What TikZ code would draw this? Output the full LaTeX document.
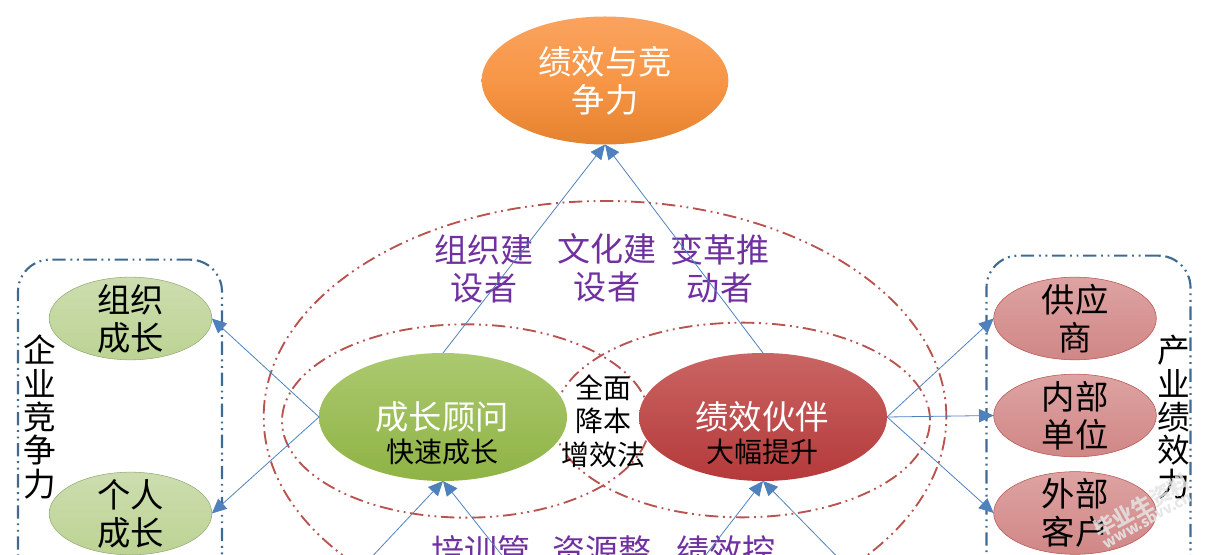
\documentclass[tikz,border=0pt]{standalone}
\usepackage{fontspec}
\setmainfont{Noto Sans CJK SC}
\usetikzlibrary{arrows.meta,shapes.geometric}
\definecolor{boxblue}{HTML}{3F6A92}
\definecolor{ringred}{HTML}{B9534F}
\definecolor{arrowblue}{HTML}{4F81BD}
\definecolor{txtpurple}{HTML}{7030A0}
\definecolor{lgtop}{HTML}{CDDDB0}
\definecolor{lgbot}{HTML}{BCD393}
\definecolor{lrtop}{HTML}{DDA3A2}
\definecolor{lrbot}{HTML}{D08786}
\definecolor{otop}{HTML}{FAA35F}
\definecolor{omid}{HTML}{F79646}
\definecolor{obot}{HTML}{E5822F}
\definecolor{gtop}{HTML}{ABC96F}
\definecolor{gbot}{HTML}{8FB345}
\definecolor{rtop}{HTML}{C96563}
\definecolor{rbot}{HTML}{B5393A}
\definecolor{markgrey}{HTML}{E4E4E4}
\tikzset{
  px/.style={x=0.75pt,y=-0.75pt},
  blob/.style={ellipse,inner sep=0pt,outer sep=0pt,align=center,font=\fontsize{25pt}{28.5pt}\selectfont},
  bigblob/.style={blob,minimum width=186pt,minimum height=96pt},
  smallblob/.style={blob,inner sep=-6pt,minimum width=122pt,minimum height=62pt},
  lgreen/.style={smallblob,draw=lgbot!80!black,top color=lgtop,bottom color=lgbot},
  lred/.style={smallblob,draw=ringred,top color=lrtop,bottom color=lrbot},
  chain/.style={dash pattern=on 10pt off 3.5pt on 1.4pt off 3.5pt on 1.4pt off 3.5pt},
  ring/.style={draw=ringred,line width=1.4pt,chain,ellipse,inner sep=0pt},
  groupbox/.style={draw=boxblue,line width=1.6pt,rounded corners=24pt,chain,rectangle,inner sep=0pt,minimum width=153pt,minimum height=248pt},
  conn/.style={draw=arrowblue,line width=0.6pt,-{Triangle[length=11pt,width=10pt]}},
  role/.style={align=center,text=txtpurple,font=\fontsize{24.8pt}{28.5pt}\selectfont},
  vert/.style={align=center,font=\fontsize{24.5pt}{25pt}\selectfont},
  midlabel/.style={align=center,font=\fontsize{21pt}{25pt}\selectfont},
  inlabel/.style={align=center,font=\fontsize{25pt}{28pt}\selectfont,text=white},
  mark1/.style={text=markgrey,text opacity=.85,rotate=29,font=\bfseries\fontsize{16pt}{16pt}\selectfont},
  mark2/.style={text=markgrey,text opacity=.9,rotate=29,font=\bfseries\fontsize{11pt}{11pt}\selectfont},
}
\begin{document}
\begin{tikzpicture}[px]
\useasboundingbox (0,0) rectangle (1209,555);
\clip (0,0) rectangle (1209,555);
% rings
\node[ring,minimum width=512pt,minimum height=324pt] (outer) at (605,417) {};
\node[ring,minimum width=276pt,minimum height=145pt] (ringL) at (466,421) {};
\node[ring,minimum width=282pt,minimum height=146pt] (ringR) at (742,420) {};
% group boxes
\node[groupbox] (boxL) at (120,425) {};
\node[groupbox] (boxR) at (1088.5,421) {};
% main ellipses
\node[blob,minimum width=185pt,minimum height=96pt,top color=otop,bottom color=obot,middle color=omid,text=white] (top) at (605,80.5) {绩效与竞\\争力};
\node[bigblob,top color=gtop,bottom color=gbot] (grow) at (443,417) {};
\node[bigblob,top color=rtop,bottom color=rbot] (perf) at (763,417) {};
\node[inlabel] (growT) at (442,417) {成长顾问};
\node[midlabel] (growS) at (442,452) {快速成长};
\node[inlabel] (perfT) at (762,417) {绩效伙伴};
\node[midlabel] (perfS) at (762,452) {大幅提升};
% small ellipses
\node[lgreen] (org) at (130.5,318.5) {组织\\成长};
\node[lgreen] (per) at (130.5,513.5) {个人\\成长};
\node[lred] (sup) at (1075,318.5) {供应\\商};
\node[lred] (inn) at (1075,415.5) {内部\\单位};
\node[lred] (ext) at (1075,513) {外部\\客户};
% labels
\node[role] (r1) at (484,269) {组织建\\设者};
\node[role] (r2) at (607,268) {文化建\\设者};
\node[role] (r3) at (720,269) {变革推\\动者};
\node[midlabel] (mid) at (603,421) {全面\\降本\\增效法};
\node[role,anchor=north] (b1) at (481,531) {培训管};
\node[role,anchor=north] (b2) at (602,531) {资源整};
\node[role,anchor=north] (b3) at (726,531) {绩效控};
\node[vert] (vL) at (40,417) {企\\业\\竞\\争\\力};
\node[vert] (vR) at (1174,417) {产\\业\\绩\\效\\力};
% connectors
\coordinate (fa) at (352,578);
\coordinate (fb) at (520,578);
\coordinate (fc) at (688,578);
\coordinate (fd) at (858,578);
\draw[conn] (grow.north) -- (top.south);
\draw[conn] (perf.north) -- (top.south);
\draw[conn] (grow.west) -- (org.east);
\draw[conn] (grow.west) -- (per.east);
\draw[conn] (perf.east) -- (sup.west);
\draw[conn] (perf.east) -- (inn.west);
\draw[conn] (perf.east) -- (ext.west);
\draw[conn] (fa) -- (grow.south);
\draw[conn] (fb) -- (grow.south);
\draw[conn] (fc) -- (perf.south);
\draw[conn] (fd) -- (perf.south);
% site mark over the picture
\node[mark1] (wm1) at (1142,506) {毕业生资料};
\node[mark2] (wm2) at (1147,520) {www.sbvv.cn};
\end{tikzpicture}
\end{document}
